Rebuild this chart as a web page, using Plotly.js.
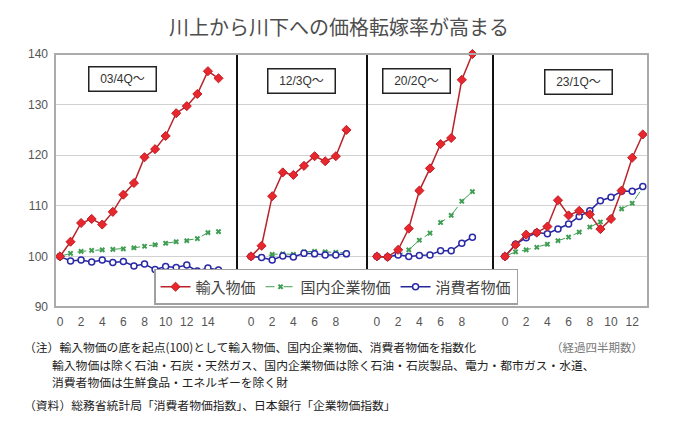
<!DOCTYPE html>
<html>
<head>
<meta charset="utf-8">
<script src="https://cdn.plot.ly/plotly-3.0.1.min.js"></script>
<style>
  html, body { margin: 0; padding: 0; background: #fff; }
  #chart { width: 680px; height: 440px; }
</style>
</head>
<body>
<div id="chart"></div>
<script>
// series names and panel start labels
const seriesNames = ['輸入物価', '国内企業物価', '消費者物価'];
const panelLabels = ['03/4Q～', '12/3Q～', '20/2Q～', '23/1Q～'];

// index values (trough of import prices = 100), by elapsed quarter
const importP1   = [100, 102.9, 106.6, 107.4, 106.3, 108.8, 112.2, 114.5, 119.6, 121.2, 123.8, 128.3, 129.7, 132.1, 136.6, 135.2];
const domesticP1 = [100, 100.6, 101.0, 101.2, 101.3, 101.4, 101.5, 101.7, 102.0, 102.3, 102.6, 102.9, 103.1, 103.5, 104.7, 104.9];
const consumerP1 = [100, 99.1, 99.3, 98.9, 99.3, 98.8, 99.0, 98.1, 98.5, 97.4, 98.0, 97.8, 98.3, 97.1, 97.7, 97.3];

const importP2   = [100, 102.1, 111.9, 116.6, 116.1, 117.9, 119.8, 118.8, 119.8, 125.0];
const domesticP2 = [100, 99.9, 100.4, 100.5, 100.4, 100.9, 101.0, 100.9, 100.8, 100.7];
const consumerP2 = [100, 99.8, 99.3, 100.1, 99.9, 100.6, 100.5, 100.3, 100.3, 100.5];

const importP3   = [100, 99.9, 101.3, 105.5, 113.0, 117.4, 122.2, 123.4, 134.9, 140.0];
const domesticP3 = [100, 99.8, 100.2, 101.3, 103.2, 104.6, 106.7, 108.1, 110.9, 112.8];
const consumerP3 = [100, 99.9, 100.3, 100.0, 100.2, 100.3, 101.1, 101.1, 102.6, 103.8];

const importP4   = [100, 102.3, 104.3, 104.7, 105.9, 111.1, 108.1, 109.0, 108.3, 105.4, 107.4, 113.0, 119.5, 124.1];
const domesticP4 = [100, 100.9, 101.3, 101.8, 102.4, 103.1, 103.8, 104.8, 105.8, 106.8, 107.6, 109.4, 110.5, 113.6];
const consumerP4 = [100, 102.4, 103.7, 104.7, 104.5, 105.4, 106.4, 107.9, 109.0, 111.0, 111.7, 112.9, 112.9, 113.8];

// tick labels
const xTicksP1 = [0, 2, 4, 6, 8, 10, 12, 14];
const xTicksP2 = [0, 2, 4, 6, 8];
const xTicksP3 = [0, 2, 4, 6, 8];
const xTicksP4 = [0, 2, 4, 6, 8, 10, 12];
const yTicks = [90, 100, 110, 120, 130, 140];

const notes = [
    '（注）輸入物価の底を起点(100)として輸入物価、国内企業物価、消費者物価を指数化',
    '輸入物価は除く石油・石炭・天然ガス、国内企業物価は除く石油・石炭製品、電力・都市ガス・水道、',
    '消費者物価は生鮮食品・エネルギーを除く財',
    '（資料）総務省統計局「消費者物価指数」、日本銀行「企業物価指数」'
];
const xUnitNote = '（経過四半期数）';

const jpFont = '"Noto Sans CJK JP", "Noto Sans", sans-serif';
const quarters = arr => arr.map((_, i) => i);

const styles = [
    {mode: 'lines+markers', line: {color: '#b8242a', width: 1.5},
     marker: {symbol: 'diamond', size: 7, color: '#e8262d', line: {color: '#c01e24', width: 1}}},
    {mode: 'lines+markers', line: {color: '#3f9e52', width: 1, dash: 'dash'},
     marker: {symbol: 'x', size: 5, color: '#3f9e52'}},
    {mode: 'lines+markers', line: {color: '#27279c', width: 1.5},
     marker: {symbol: 'circle', size: 6, color: '#ffffff', line: {color: '#2a2aa8', width: 1.5}}}
];

const panels = [
    [importP1, domesticP1, consumerP1],
    [importP2, domesticP2, consumerP2],
    [importP3, domesticP3, consumerP3],
    [importP4, domesticP4, consumerP4]
];

const traces = [];
panels.forEach((series, p) => {
    // draw green first, then blue, then red on top
    [1, 2, 0].forEach(s => {
        traces.push({
            type: 'scatter',
            x: quarters(series[s]),
            y: series[s],
            name: seriesNames[s],
            xaxis: p === 0 ? 'x' : 'x' + (p + 1),
            yaxis: 'y',
            showlegend: p === 0,
            legendrank: s + 1,
            cliponaxis: false,
            hoverinfo: 'skip',
            ...styles[s]
        });
    });
});

const splits = [0, 0.3069, 0.5261, 0.7386, 1];
const xRanges = [[-0.47, 16.75], [-1.32, 10.94], [-0.94, 10.94], [-1.13, 13.49]];
const xTicks = [xTicksP1, xTicksP2, xTicksP3, xTicksP4];

const layout = {
    width: 680, height: 440,
    margin: {l: 55, r: 32, t: 54, b: 133},
    paper_bgcolor: '#ffffff', plot_bgcolor: '#ffffff',
    font: {family: jpFont, color: '#555'},
    title: {
        text: '川上から川下への価格転嫁率が高まる',
        font: {family: jpFont, size: 20, color: '#4d4d4d'},
        x: 0.4985, xref: 'container', y: 0.936, yref: 'container',
        xanchor: 'center', yanchor: 'middle'
    },
    yaxis: {
        range: [90, 140], tickvals: yTicks, showgrid: true,
        gridcolor: '#d2d2d2', gridwidth: 1, zeroline: false, showline: false,
        ticks: '', ticklabelstandoff: 6,
        tickfont: {family: 'Arial, "Liberation Sans", sans-serif', size: 12, color: '#555'}
    },
    legend: {
        orientation: 'h', x: 0.167, y: 0.008, xanchor: 'left', yanchor: 'bottom',
        bgcolor: '#ffffff', bordercolor: '#a0a0a0', borderwidth: 1.5,
        font: {family: jpFont, size: 15, color: '#444'},
        traceorder: 'normal'
    },
    shapes: [],
    annotations: []
};

for (let p = 0; p < 4; p++) {
    const key = p === 0 ? 'xaxis' : 'xaxis' + (p + 1);
    layout[key] = {
        domain: [splits[p], splits[p + 1]], range: xRanges[p], anchor: 'y',
        tickvals: xTicks[p], showgrid: false, zeroline: false, showline: false,
        ticks: '', ticklabelstandoff: 6,
        tickfont: {family: 'Arial, "Liberation Sans", sans-serif', size: 12, color: '#555'}
    };
    // black separator between panels
    if (p > 0) {
        layout.shapes.push({
            type: 'line', xref: 'paper', yref: 'y',
            x0: splits[p], x1: splits[p], y0: 95.8, y1: 140,
            line: {color: '#111', width: 2}
        });
    }
}

// outer grey frame
layout.shapes.push({
    type: 'rect', xref: 'paper', yref: 'paper', x0: 0, x1: 1, y0: 0, y1: 1,
    line: {color: '#ababab', width: 2}
});

// panel start labels
const labelPos = [[0.113, 0.901], [0.415, 0.893], [0.609, 0.893], [0.882, 0.889]];
panelLabels.forEach((t, i) => {
    layout.annotations.push({
        text: t, xref: 'paper', yref: 'paper', x: labelPos[i][0], y: labelPos[i][1],
        xanchor: 'center', yanchor: 'middle',
        showarrow: false, width: 60, height: 17, borderpad: 3,
        bgcolor: '#ffffff', bordercolor: '#222', borderwidth: 1.5,
        font: {family: 'Arial, "Noto Sans CJK JP", sans-serif', size: 12, color: '#333'}
    });
});

// notes under the chart
const notePos = [[-0.0556, -0.158], [-0.0084, -0.229], [-0.0084, -0.294], [-0.0556, -0.387]];
notes.forEach((t, i) => {
    layout.annotations.push({
        text: t, xref: 'paper', yref: 'paper', x: notePos[i][0], y: notePos[i][1],
        xanchor: 'left', yanchor: 'middle', showarrow: false,
        font: {family: jpFont, size: 11.8, color: '#222'}
    });
});
layout.annotations.push({
    text: xUnitNote, xref: 'paper', yref: 'paper', x: 0.995, y: -0.158,
    xanchor: 'right', yanchor: 'middle', showarrow: false,
    font: {family: jpFont, size: 11.5, color: '#777'}
});

Plotly.newPlot('chart', traces, layout, {staticPlot: true, displayModeBar: false});
</script>
</body>
</html>
